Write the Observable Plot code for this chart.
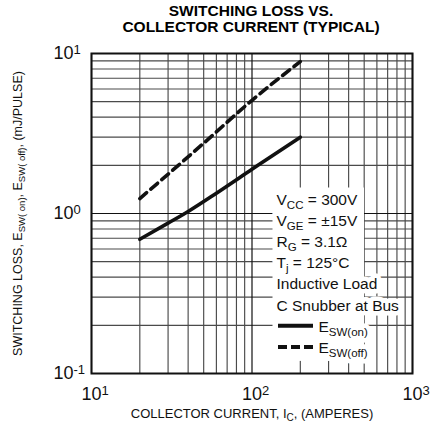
<!DOCTYPE html>
<html><head><meta charset="utf-8">
<script src="https://cdn.jsdelivr.net/npm/d3@7"></script>
<script src="https://cdn.jsdelivr.net/npm/@observablehq/plot@0.6"></script>
<style>
body{margin:0;background:#fff;}
#wrap{width:433px;font-family:"Liberation Sans",Arial,sans-serif;}
#title{height:36px;box-sizing:border-box;padding-top:3px;padding-left:69px;text-align:center;font-weight:bold;font-size:15.5px;line-height:16px;color:#000;}
</style></head><body>
<div id="wrap"><div id="title">SWITCHING LOSS VS.<br>COLLECTOR CURRENT (TYPICAL)</div><div id="chart"></div></div>
<script>
// ---- data ----
const currentOn = [20, 30, 40, 60, 100, 150, 200];
const lossOn    = [0.69, 0.87, 1.03, 1.34, 1.89, 2.48, 3.0];
const currentOff = [20, 50, 100, 200];
const lossOff    = [1.24, 2.75, 5.1, 8.9];
const xTicks = [10, 100, 1000];
const xTickLabels = ["10^{1}", "10^{2}", "10^{3}"];
const yTicks = [0.1, 1, 10];
const yTickLabels = ["10^{-1}", "10^{0}", "10^{1}"];
const conditions = ["V_{CC} = 300V", "V_{GE} = ±15V", "R_{G} = 3.1Ω", "T_{j} = 125°C", "Inductive Load", "C Snubber at Bus"];
const seriesNames = ["E_{SW(on)}", "E_{SW(off)}"];
const xLabel = "COLLECTOR CURRENT, I_{C}, (AMPERES)";
const yLabel = "SWITCHING LOSS, E_{SW( on)}, E_{SW( off)}, (mJ/PULSE)";

const onData = currentOn.map((c, i) => ({c, e: lossOn[i]}));
const offData = currentOff.map((c, i) => ({c, e: lossOff[i]}));

const W = 433, H = 393, mL = 91, mR = 21, mT = 17, mB = 56;
const xGrid = d3.scaleLog().domain([10, 1000]).ticks();
const yGrid = d3.scaleLog().domain([0.1, 10]).ticks();
const isDecade = v => Math.abs(Math.log10(v) - Math.round(Math.log10(v))) < 1e-9;

const rowDx = 185, seriesDx = 227, rowDy0 = 151, rowStep = 21.2, rowFont = 15.5;

function legendMarks(halo) {
  const style = halo ? {fill: "white", stroke: "white", strokeWidth: 9, strokeLinejoin: "round"} : {fill: "#111"};
  return [
    ...conditions.map((t, i) => Plot.text([t], {frameAnchor: "top-left", dx: rowDx, dy: rowDy0 + i * rowStep,
      textAnchor: "start", lineAnchor: "bottom", fontSize: rowFont, ...style})),
    ...seriesNames.map((t, i) => Plot.text([t], {frameAnchor: "top-left", dx: seriesDx, dy: rowDy0 + (conditions.length + i) * rowStep,
      textAnchor: "start", lineAnchor: "bottom", fontSize: rowFont, ...style}))
  ];
}

const marks = [
  Plot.ruleX(xGrid.filter(v => !isDecade(v)), {x: d => d, stroke: "#4a4a4a", strokeWidth: 1.15}),
  Plot.ruleY(yGrid.filter(v => !isDecade(v)), {y: d => d, stroke: "#4a4a4a", strokeWidth: 1.15}),
  Plot.ruleX(xGrid.filter(isDecade), {x: d => d, stroke: "#111", strokeWidth: 1.2}),
  Plot.ruleY(yGrid.filter(isDecade), {y: d => d, stroke: "#111", strokeWidth: 1.2}),
  Plot.line(onData, {x: "c", y: "e", stroke: "#111", strokeWidth: 3.6, curve: "monotone-x"}),
  Plot.line(offData, {x: "c", y: "e", stroke: "#111", strokeWidth: 3.6, strokeDasharray: "9,5.5", curve: "monotone-x"}),
  Plot.frame({stroke: "#111", strokeWidth: 2}),
  Plot.axisX(xTicks, {tickSize: 0, tickPadding: 14, fontSize: 18, label: null,
    tickFormat: d => xTickLabels[xTicks.indexOf(d)]}),
  Plot.axisY(yTicks, {tickSize: 0, tickPadding: 18, fontSize: 18, label: null,
    tickFormat: d => yTickLabels[yTicks.indexOf(d)]}),
  Plot.text([xLabel], {frameAnchor: "bottom", dy: 40, fontSize: 13, lineAnchor: "middle", textAnchor: "middle", fill: "#111"}),
  Plot.text([yLabel], {frameAnchor: "left", dx: -74, rotate: -90, fontSize: 12.5, lineAnchor: "middle", textAnchor: "middle", fill: "#111"}),
  ...legendMarks(true),
  ...legendMarks(false)
];

const svg = Plot.plot({
  width: W, height: H, marginLeft: mL, marginRight: mR, marginTop: mT, marginBottom: mB,
  style: {fontFamily: "Liberation Sans, Arial, sans-serif", background: "white", color: "#111", overflow: "visible"},
  x: {type: "log", domain: [10, 1000]},
  y: {type: "log", domain: [0.1, 10]},
  marks
});
document.getElementById("chart").appendChild(svg);

const NS = "http://www.w3.org/2000/svg";
// tick labels: "10" placed on the tick, exponent appended
svg.querySelectorAll('g[aria-label="x-axis tick label"] text, g[aria-label="y-axis tick label"] text').forEach(t => {
  const isX = t.closest("g").getAttribute("aria-label").startsWith("x");
  const m = t.textContent.match(/^(.*)\^\{(.*)\}$/);
  if (!m) return;
  t.textContent = m[1];
  const w = t.getComputedTextLength();
  t.setAttribute("text-anchor", "start");
  t.setAttribute("dx", isX ? -w / 2 : -w);
  const sup = document.createElementNS(NS, "tspan");
  sup.setAttribute("font-size", 13);
  sup.setAttribute("dy", -5.5);
  sup.textContent = m[2];
  t.appendChild(sup);
});

// generic sub/superscript markup
function markup(t, subSize, shift) {
  const s = t.textContent;
  if (!/[_^]\{/.test(s)) return;
  t.textContent = "";
  const re = /([_^])\{([^}]*)\}/g;
  let last = 0, cur = 0, m;
  const add = (txt, size, dy) => {
    const sp = document.createElementNS(NS, "tspan");
    if (size) sp.setAttribute("font-size", size);
    if (dy) sp.setAttribute("dy", dy);
    sp.textContent = txt;
    t.appendChild(sp);
  };
  while ((m = re.exec(s))) {
    if (m.index > last) { add(s.slice(last, m.index), null, -cur); cur = 0; }
    const d = m[1] === "_" ? shift : -shift;
    add(m[2], subSize, d - cur); cur = d;
    last = re.lastIndex;
  }
  if (last < s.length) add(s.slice(last), null, -cur);
}
const legendTexts = [];
svg.querySelectorAll("text").forEach(t => {
  const s = t.textContent;
  if (conditions.includes(s) || seriesNames.includes(s)) { legendTexts.push({t, s}); markup(t, 11.5, 4); }
  else if (s === xLabel) markup(t, 10, 3);
  else if (s === yLabel) markup(t, 9.5, 3);
});

// legend background box derived from the rendered rows
const sr = svg.getBoundingClientRect();
const rects = legendTexts.map(({t, s}) => ({s, r: t.getBoundingClientRect()}));
const condRects = rects.filter(d => conditions.indexOf(d.s) >= 0 && conditions.indexOf(d.s) < 4).map(d => d.r);
const allR = rects.map(d => d.r);
const bx0 = d3.min(allR, r => r.left) - sr.left - 4;
const bx1 = d3.max(condRects, r => r.right) - sr.left + 6;
const by0 = d3.min(allR, r => r.top) - sr.top - 3;
const by1 = d3.max(allR, r => r.bottom) - sr.top + 2;
const firstG = legendTexts[0].t.parentNode;
const box = document.createElementNS(NS, "rect");
box.setAttribute("x", bx0); box.setAttribute("y", by0);
box.setAttribute("width", bx1 - bx0); box.setAttribute("height", by1 - by0);
box.setAttribute("fill", "white");
firstG.parentNode.insertBefore(box, firstG);

// legend line samples
seriesNames.forEach((n, i) => {
  const yy = mT + rowDy0 + (conditions.length + i) * rowStep - 5.5;
  const x0 = mL + seriesDx - 40, x1 = mL + seriesDx - 5;
  [["white", 10, null], ["#111", 4, i === 0 ? null : "9,4"]].forEach(([c, w, da]) => {
    const l = document.createElementNS(NS, "line");
    l.setAttribute("x1", x0); l.setAttribute("x2", x1);
    l.setAttribute("y1", yy); l.setAttribute("y2", yy);
    l.setAttribute("stroke", c); l.setAttribute("stroke-width", w);
    if (da) l.setAttribute("stroke-dasharray", da);
    svg.appendChild(l);
  });
});
</script>
</body></html>
